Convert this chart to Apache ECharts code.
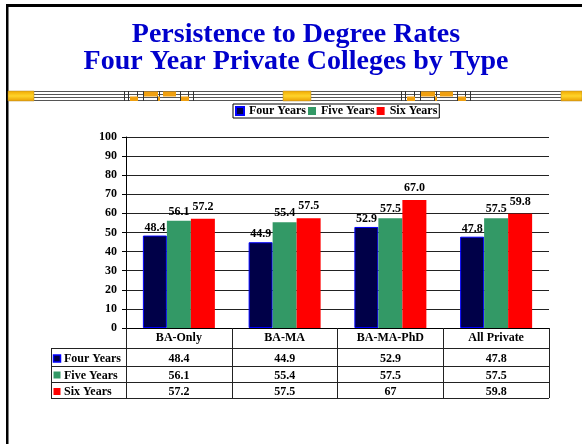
<!DOCTYPE html>
<html><head><meta charset="utf-8">
<script src="https://cdn.jsdelivr.net/npm/echarts@6/dist/echarts.min.js"></script>
<style>html,body{margin:0;padding:0;background:#fff}#c{width:582px;height:444px}</style>
</head><body><div id="c"></div>
<script>
// ---- data ----
const titleLines = ['Persistence to Degree Rates', 'Four Year Private Colleges by Type'];
const categories = ['BA-Only', 'BA-MA', 'BA-MA-PhD', 'All Private'];
const seriesNames = ['Four Years', 'Five Years', 'Six Years'];
const fourYears = [48.4, 44.9, 52.9, 47.8];
const fiveYears = [56.1, 55.4, 57.5, 57.5];
const sixYears = [57.2, 57.5, 67.0, 59.8];
const tableFour = ['48.4', '44.9', '52.9', '47.8'];
const tableFive = ['56.1', '55.4', '57.5', '57.5'];
const tableSix = ['57.2', '57.5', '67', '59.8'];
const yMin = 0, yMax = 100, yStep = 10;

// ---- styling ----
const FONT = "'Liberation Serif','Times New Roman',serif";
const COLORS = ['#000048', '#339966', '#ff0000'];
const GL = 126, GR = 549, GT = 137, GB = 328;
const W = 582, H = 444;

const chart = echarts.init(document.getElementById('c'), null, {renderer: 'canvas'});

function seriesDef(name, data, color, dist, extra) {
  return Object.assign({
    name: name, type: 'bar', data: data, barWidth: 24, barGap: '0%',
    itemStyle: {color: color},
    label: {show: true, position: 'top', distance: dist, color: '#000',
      fontFamily: FONT, fontWeight: 'bold', fontSize: 12,
      formatter: p => Number(p.value).toFixed(1)},
    animation: false
  }, extra || {});
}

const option = {
  animation: false,
  backgroundColor: '#fff',
  grid: {left: GL, right: W - GR, top: GT, bottom: H - GB, containLabel: false},
  legend: {
    data: seriesNames, left: 233, top: 104, padding: [1, 2], itemGap: 2,
    itemWidth: 8, itemHeight: 8, icon: 'rect',
    borderColor: '#000', borderWidth: 1,
    textStyle: {fontFamily: FONT, fontWeight: 'bold', fontSize: 12, color: '#000'},
    selectedMode: false
  },
  xAxis: {
    type: 'category', data: categories,
    axisLine: {lineStyle: {color: '#000', width: 1}},
    axisTick: {show: true, length: 70, lineStyle: {color: '#222', width: 1}},
    axisLabel: {margin: 4, color: '#000', fontFamily: FONT, fontWeight: 'bold', fontSize: 12}
  },
  yAxis: {
    type: 'value', min: yMin, max: yMax, interval: yStep,
    axisLine: {show: true, lineStyle: {color: '#000', width: 1}},
    axisTick: {show: true, length: 4, lineStyle: {color: '#000'}},
    axisLabel: {margin: 9, color: '#000', fontFamily: FONT, fontWeight: 'bold', fontSize: 12},
    splitLine: {show: true, lineStyle: {color: '#222', width: 1}}
  },
  series: [
    seriesDef(seriesNames[0], fourYears, COLORS[0], 2, {itemStyle: {color: COLORS[0], borderColor: '#0000ff', borderWidth: 1}}),
    seriesDef(seriesNames[1], fiveYears, COLORS[1], 3),
    seriesDef(seriesNames[2], sixYears, COLORS[2], 6)
  ]
};
chart.setOption(option);

// ---- decorations, title and data table ----
const g = [];
// page frame
g.push({type: 'rect', shape: {x: 6, y: 4, width: W - 6, height: 3}, style: {fill: '#000'}});
g.push({type: 'rect', shape: {x: 6, y: 4, width: 2.5, height: H - 4}, style: {fill: '#000'}});
// title
titleLines.forEach((t, i) => {
  g.push({type: 'text', x: 296, y: 35 + i * 27, style: {text: t, fill: '#0000cc',
    font: 'bold 28px ' + FONT, textAlign: 'center', textVerticalAlign: 'middle'}});
});
// decorative band
[91.5, 94.5, 97.5, 100.5].forEach(y => {
  g.push({type: 'line', shape: {x1: 8, y1: y, x2: W, y2: y}, style: {stroke: '#555', lineWidth: 1}});
});
const gold = {type: 'linear', x: 0, y: 0, x2: 0, y2: 1, colorStops: [
  {offset: 0, color: '#f0a800'}, {offset: 0.5, color: '#ffd42a'}, {offset: 1, color: '#e89c00'}]};
[[8, 26], [283, 28], [561, 21]].forEach(b => {
  g.push({type: 'rect', shape: {x: b[0], y: 91, width: b[1], height: 10}, style: {fill: gold, stroke: '#b08a30', lineWidth: 0.5}});
});
[0, 277].forEach(off => {
  [124, 128, 137, 143, 157, 159, 180, 188, 193].forEach(x => {
    g.push({type: 'line', shape: {x1: x + off + 0.5, y1: 91, x2: x + off + 0.5, y2: 101}, style: {stroke: '#333', lineWidth: 1}});
  });
  [[129, 96.5, 8, 4.5], [143, 91.5, 14, 5], [157, 96.5, 2, 4.5], [162, 91.5, 13, 5], [180, 96.5, 8, 4.5]].forEach(r => {
    g.push({type: 'rect', shape: {x: r[0] + off + 1, y: r[1], width: r[2], height: r[3]}, style: {fill: '#f0a010'}});
  });
});
// table lines
const rowLines = [348, 366, 382, 398];
rowLines.forEach(y => {
  g.push({type: 'line', shape: {x1: 51, y1: y + 0.5, x2: GR, y2: y + 0.5}, style: {stroke: '#222', lineWidth: 1}});
});
g.push({type: 'line', shape: {x1: 51.5, y1: 348, x2: 51.5, y2: 398.5}, style: {stroke: '#222', lineWidth: 1}});
// table rows
const rows = [tableFour, tableFive, tableSix];
const rowY = [359, 375.5, 392];
rows.forEach((vals, r) => {
  g.push({type: 'rect', shape: {x: 53.5, y: rowY[r] - 4, width: 7, height: 7},
    style: {fill: COLORS[r], stroke: r === 0 ? '#0000ff' : null, lineWidth: r === 0 ? 1.5 : 0}});
  g.push({type: 'text', x: 64, y: rowY[r], style: {text: seriesNames[r], fill: '#000',
    font: 'bold 12px ' + FONT, textAlign: 'left', textVerticalAlign: 'middle'}});
  vals.forEach((v, c) => {
    const px = chart.convertToPixel({xAxisIndex: 0}, categories[c]);
    g.push({type: 'text', x: px, y: rowY[r], style: {text: v, fill: '#000',
      font: 'bold 12px ' + FONT, textAlign: 'center', textVerticalAlign: 'middle'}});
  });
});
chart.setOption({graphic: {elements: g}});
</script>
</body></html>
